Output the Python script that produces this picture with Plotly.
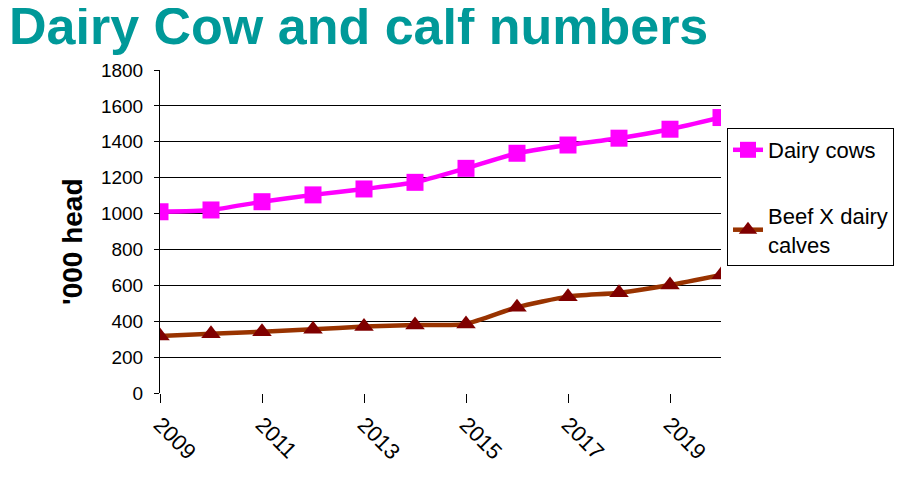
import plotly.graph_objects as go

years = list(range(2009, 2021))
dairy_cows = [1010, 1020, 1066, 1104, 1137, 1174, 1252, 1336, 1382, 1420, 1470, 1535]
beef_x_dairy = [318, 330, 342, 355, 370, 379, 385, 478, 537, 559, 602, 658]
x_ticks = [2009, 2011, 2013, 2015, 2017, 2019]
y_ticks = list(range(0, 1801, 200))

# page body has an 8px default margin, so compensate
OFF = 8
W, H = 918, 498
L, R, T, B = 160 - OFF, 197 + OFF, 70 - OFF, 105 + OFF
pw, ph = W - L - R, H - T - B

fig = go.Figure()
fig.add_trace(go.Scatter(
    x=years, y=dairy_cows, name="Dairy cows", mode="lines+markers",
    line=dict(color="#FF00FF", width=4.5, shape="spline", smoothing=0.6),
    marker=dict(symbol="square", size=17, color="#FF00FF"),
    legendgroup="a",
))
fig.add_trace(go.Scatter(
    x=years, y=beef_x_dairy, name="Beef X dairy<br>calves", mode="lines+markers",
    line=dict(color="#993300", width=4.5, shape="spline", smoothing=0.6),
    marker=dict(symbol="triangle-up", size=17, color="#800000"),
    legendgroup="b",
))

fig.update_layout(
    width=W, height=H,
    margin=dict(l=L, r=R, t=T, b=B, autoexpand=False),
    paper_bgcolor="white", plot_bgcolor="white",
    font=dict(family="Liberation Sans, Arial", color="black"),
    showlegend=True,
    title=dict(
        text="<b>Dairy Cow and calf numbers</b>", xref="container", yref="container",
        x=1 / W, xanchor="left", y=1, yanchor="top", pad=dict(t=0, l=0),
        font=dict(size=52, color="#009999"),
    ),
    legend=dict(
        x=(727 - OFF - L) / pw, y=(H - B - (128 - OFF)) / ph, xanchor="left", yanchor="top",
        bordercolor="black", borderwidth=1, bgcolor="white",
        font=dict(size=22, color="black"),
        traceorder="grouped", tracegroupgap=34, itemwidth=30,
    ),
    xaxis=dict(
        range=[2009, 2020], tickvals=x_ticks, ticktext=[str(v) for v in x_ticks],
        tickangle=45, tickfont=dict(size=22), showgrid=False, zeroline=False,
        showline=False, ticks="outside", ticklen=9, tickcolor="black",
    ),
    yaxis=dict(
        range=[0, 1800], tickvals=y_ticks, tickfont=dict(size=19),
        showgrid=True, gridcolor="black", gridwidth=1, zeroline=False,
        showline=True, linecolor="black", linewidth=1,
        ticks="outside", ticklen=5, tickcolor="black", ticklabelstandoff=7,
    ),
    annotations=[dict(
        text="<b>'000 head</b>", textangle=-90, showarrow=False,
        xref="paper", yref="paper",
        x=(73 - OFF - L) / pw, y=(H - B - (242 - OFF)) / ph,
        xanchor="center", yanchor="middle",
        font=dict(size=28, color="black"),
    )],
)

fig.write_html("out.html")
